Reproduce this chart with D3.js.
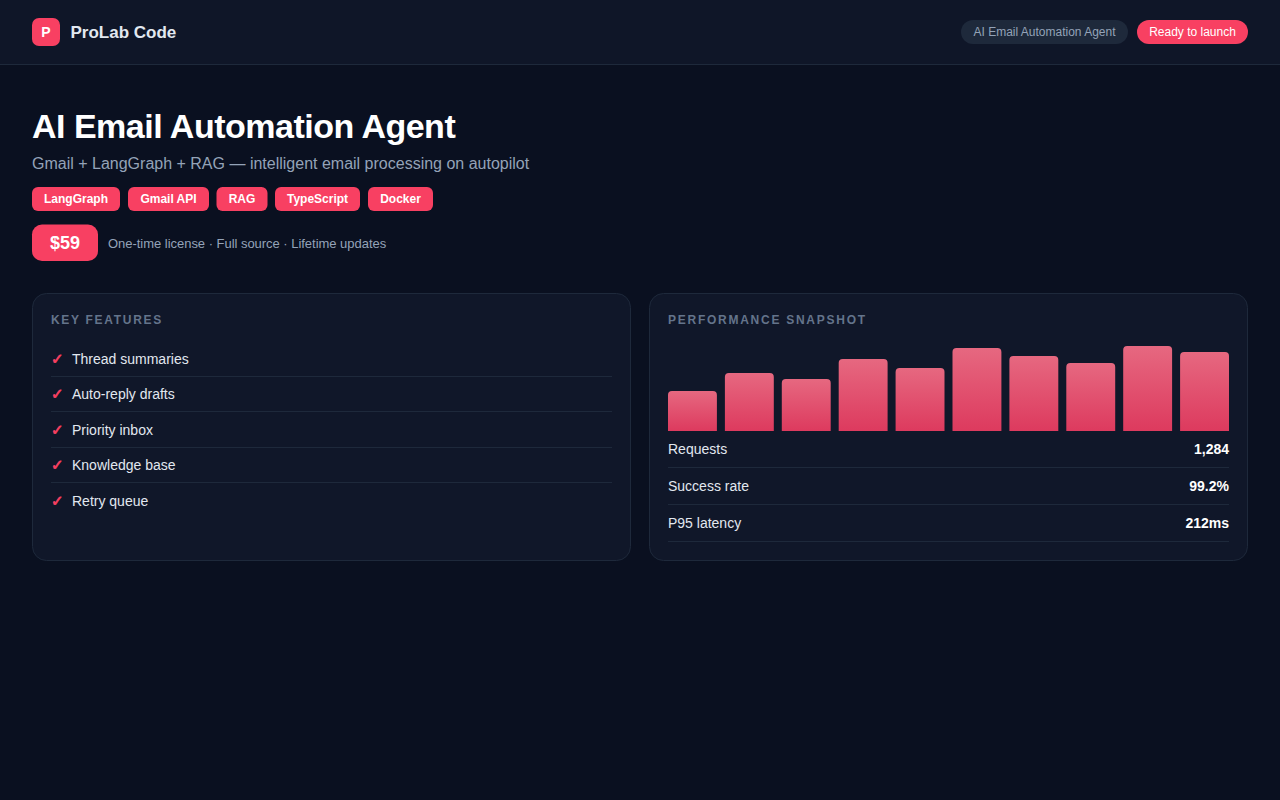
<!DOCTYPE html>
<html><head><meta charset="utf-8">
<script src="https://cdn.jsdelivr.net/npm/d3@7/dist/d3.min.js"></script>
<style>
html,body{margin:0;padding:0;background:#0a1020;overflow:hidden}
svg{display:block}
text{font-family:"Liberation Sans",Arial,sans-serif}
</style></head><body><svg id="c" width="1280" height="800"></svg>
<script>
const brand = "ProLab Code";
const pills = ["AI Email Automation Agent", "Ready to launch"];
const title = "AI Email Automation Agent";
const subtitle = "Gmail + LangGraph + RAG — intelligent email processing on autopilot";
const tags = ["LangGraph", "Gmail API", "RAG", "TypeScript", "Docker"];
const price = "$59";
const priceNote = "One-time license · Full source · Lifetime updates";
const featureTitle = "KEY FEATURES";
const features = ["Thread summaries", "Auto-reply drafts", "Priority inbox", "Knowledge base", "Retry queue"];
const perfTitle = "PERFORMANCE SNAPSHOT";
const barIds = ["1","2","3","4","5","6","7","8","9","10"];
const barValues = [40, 58, 52, 72, 63, 83, 75, 68, 85, 79];
const statLabels = ["Requests", "Success rate", "P95 latency"];
const statValues = ["1,284", "99.2%", "212ms"];

const ACC = "#f84062", LINE = "#1e293b";
const svg = d3.select("#c");
svg.append("rect").attr("width",1280).attr("height",800).attr("fill","#0a1020");
const defs = svg.append("defs");
const g = defs.append("linearGradient").attr("id","bar").attr("x1",0).attr("y1",0).attr("x2",0).attr("y2",1);
g.append("stop").attr("offset",0).attr("stop-color","#e66880");
g.append("stop").attr("offset",1).attr("stop-color","#dd3a5e");
function T(x,y,s,size,fill,weight,anchor,ls){
  return svg.append("text").attr("x",x).attr("y",y).attr("font-size",size).attr("fill",fill)
    .attr("font-weight",weight||400).attr("text-anchor",anchor||"start").attr("letter-spacing",ls||0).text(s);
}
function R(x,y,w,h,r,fill,stroke){
  return svg.append("rect").attr("x",x).attr("y",y).attr("width",w).attr("height",h).attr("rx",r)
    .attr("fill",fill).attr("stroke",stroke||"none");
}
function H(x1,x2,y,c){ svg.append("rect").attr("x",x1).attr("y",y).attr("width",x2-x1).attr("height",1).attr("fill",c); }

// header
R(0,0,1280,64,0,"#0f1628"); H(0,1280,64,LINE);
R(32,18,28,28,7,ACC);
T(46,37,"P",14,"#fff",700,"middle");
T(70.5,37.5,brand,17,"#e2e8f0",700);
const pillX=[961,1137], pillW=[167,111];
R(pillX[0],20,pillW[0],24,12,"#1e293b");
T(pillX[0]+pillW[0]/2,36,pills[0],12,"#94a3b8",400,"middle");
R(pillX[1],20,pillW[1],24,12,ACC);
T(pillX[1]+pillW[1]/2,36,pills[1],12,"#fff",400,"middle");

// hero
T(32,138,title,34,"#fff",700,"start",-0.5);
T(32,169,subtitle,16,"#94a3b8");
const tagX=[32,128,216.5,275,368], tagW=[88,81,51,85,65];
tags.forEach((t,i)=>{
  R(tagX[i],187,tagW[i],24,6,ACC);
  T(tagX[i]+tagW[i]/2,203,t,12,"#fff",700,"middle");
});
R(32,224.5,66,36.5,10,ACC);
T(65,249,price,18,"#fff",700,"middle");
T(108,248,priceNote,13,"#94a3b8","400","start",-0.03);

// cards
[[32.5,293.5],[649.5,293.5]].forEach(p=>R(p[0],p[1],598,267,14,"#101729",LINE));
T(51,324,featureTitle,12,"#64748b",700,"start",1.7);
T(668,324,perfTitle,12,"#64748b",700,"start",1.74);

// features
const fy=d3.scaleLinear().domain([0,1]).range([364,399.5]);
features.forEach((f,i)=>{
  const y=Math.floor(fy(i));
  svg.append("text").attr("x",51).attr("y",y).attr("font-size",15).attr("font-weight",700).attr("fill",ACC)
     .attr("stroke",ACC).attr("stroke-width",0.7)
     .style("font-family","'DejaVu Sans'").text("✓");
  T(72,y,f,14,"#e2e8f0");
  if(i<4) H(51,612,Math.round(fy(i)+11.5),LINE);
});

// bars
const x=d3.scaleBand().domain(barIds).range([668,1229]).paddingInner(0.1406).paddingOuter(0);
const y=d3.scaleLinear().domain([0,85]).range([431,346]);
svg.selectAll("path.bar").data(barValues).join("path").attr("class","bar").attr("fill","url(#bar)")
 .attr("d",(d,i)=>{
   const a=x(barIds[i]),w=x.bandwidth(),t=y(d),b=y(0),r=4;
   return `M${a},${b}V${t+r}Q${a},${t} ${a+r},${t}H${a+w-r}Q${a+w},${t} ${a+w},${t+r}V${b}Z`;
 });

// stats
statLabels.forEach((s,i)=>{
  const yy=454+i*37;
  T(668,yy,s,14,"#e2e8f0");
  T(1229,yy,statValues[i],14,"#fff",700,"end");
  H(668,1229,yy+13,LINE);
});
</script></body></html>
